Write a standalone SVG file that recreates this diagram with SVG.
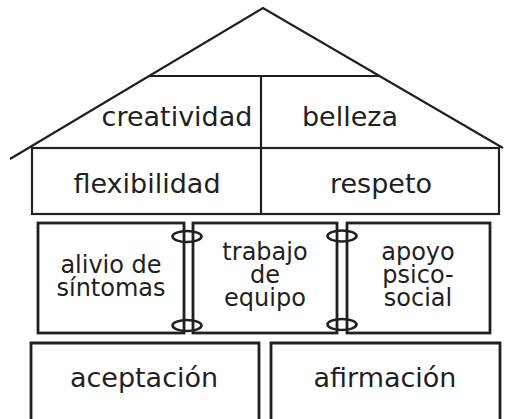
<svg xmlns="http://www.w3.org/2000/svg" width="505" height="419" viewBox="0 0 505 419">
<style>
.ln{fill:none;stroke:#231f20;stroke-width:2.2}
.bx{fill:none;stroke:#231f20;stroke-width:2.8}
.ring{fill:none;stroke:#231f20;stroke-width:2.6}
text{font-family:"DejaVu Sans","Liberation Sans",sans-serif;fill:#231f20;text-anchor:middle}
.t1{font-size:27px}
.t2{font-size:24px}
</style>
<rect width="505" height="419" fill="#fff"/>
<g id="roof">
<polyline class="ln" points="10,159 263,8 503,148"/>
<line class="ln" x1="150" y1="76" x2="379" y2="76"/>
<line class="ln" x1="261" y1="76" x2="261" y2="148"/>
</g>
<g id="creatividad"><text class="t1" x="177" y="126">creatividad</text></g>
<g id="belleza"><text class="t1" x="350" y="126">belleza</text></g>
<g id="walls">
<rect class="ln" x="32" y="148" width="467" height="66"/>
<line class="ln" x1="261" y1="148" x2="261" y2="214"/>
</g>
<g id="flexibilidad"><text class="t1" x="147" y="193">flexibilidad</text></g>
<g id="respeto"><text class="t1" x="381" y="193">respeto</text></g>
<g id="alivio">
<rect class="bx" x="38" y="223" width="146" height="110"/>
<text class="t2" x="111" y="273">alivio de</text>
<text class="t2" x="111" y="296">síntomas</text>
</g>
<g id="trabajo">
<rect class="bx" x="193" y="223" width="144" height="110"/>
<text class="t2" x="265" y="260">trabajo</text>
<text class="t2" x="265" y="283">de</text>
<text class="t2" x="265" y="306">equipo</text>
</g>
<g id="apoyo">
<rect class="bx" x="347" y="223" width="143" height="110"/>
<text class="t2" x="418" y="260">apoyo</text>
<text class="t2" x="418" y="283">psico-</text>
<text class="t2" x="418" y="306">social</text>
</g>
<g id="connectors">
<ellipse class="ring" cx="187" cy="236.5" rx="14.5" ry="5.5"/>
<ellipse class="ring" cx="187" cy="325.5" rx="14.5" ry="5.5"/>
<ellipse class="ring" cx="342" cy="236" rx="14.5" ry="5.5"/>
<ellipse class="ring" cx="342" cy="324.5" rx="14.5" ry="5.5"/>
</g>
<g id="aceptacion">
<path class="bx" d="M31,422 V343 H259 V422"/>
<text class="t1" x="144" y="387">aceptación</text>
</g>
<g id="afirmacion">
<path class="bx" d="M271,422 V343 H500 V422"/>
<text class="t1" x="385" y="387">afirmación</text>
</g>
</svg>
